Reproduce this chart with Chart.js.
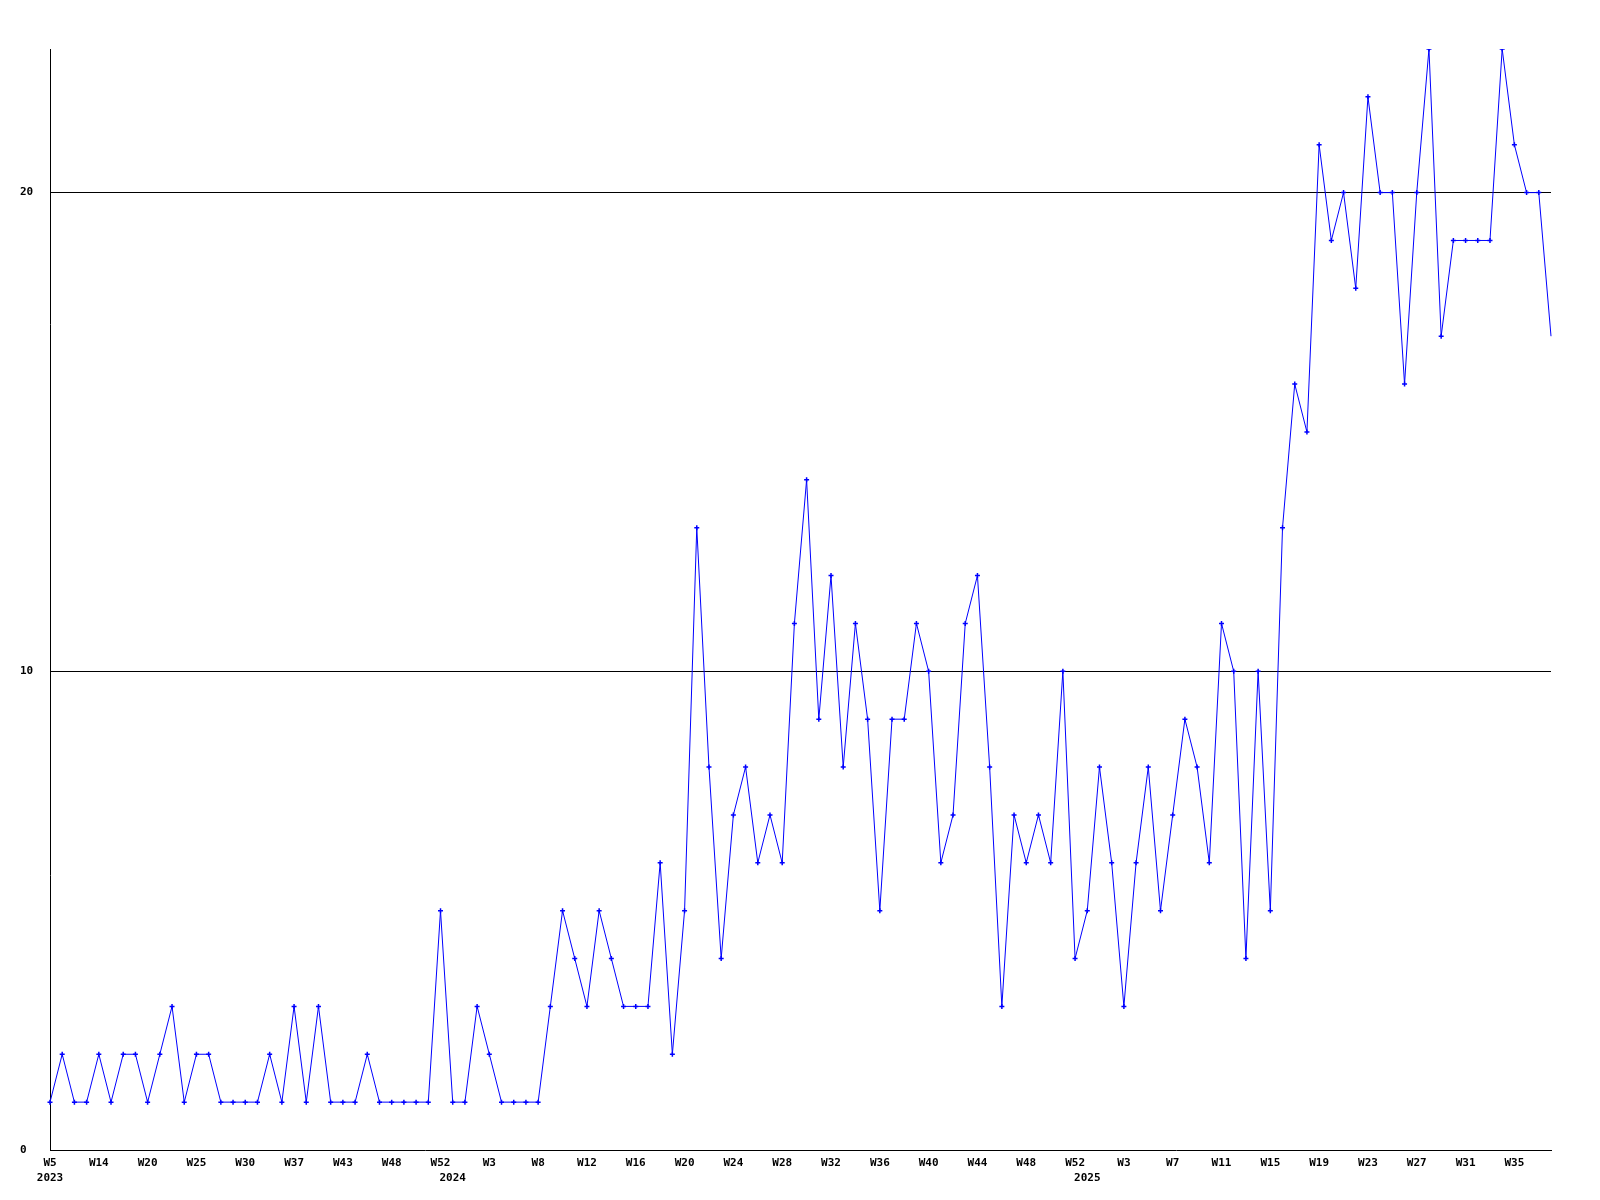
<!DOCTYPE html>
<html>
<head>
<meta charset="utf-8">
<title>Weekly count</title>
<script src="https://cdn.jsdelivr.net/npm/chart.js@4.4.0/dist/chart.umd.min.js"></script>
<style>
  html, body { margin: 0; padding: 0; background: #fff; }
  #chart { display: block; }
</style>
</head>
<body>
<canvas id="chart" width="1600" height="1200"></canvas>
<script>
// week numbers that have data, per year (data order)
const years = ['2023', '2024', '2025'];
const weeks2023 = [5, 7, 9, 12, 14, 16, 17, 19, 20, 21, 23, 24, 25, 27, 28, 29, 30, 32, 34, 36, 37, 39, 40, 42, 43, 44, 45, 47, 48, 49, 50, 51, 52];
const weeks2024 = [0, 1, 2, 3, 4, 5, 7, 8, 9, 10, 11, 12, 13, 14, 15, 16, 17, 18, 19, 20, 21, 22, 23, 24, 25, 26,
                   27, 28, 29, 30, 31, 32, 33, 34, 35, 36, 37, 38, 39, 40, 41, 42, 43, 44, 45, 46, 47, 48, 49, 50, 51, 52];
const weeks2025 = [0, 1, 2, 3, 4, 5, 6, 7, 8, 9, 10, 11, 12, 13, 14, 15, 16, 17, 18, 19,
                   20, 21, 22, 23, 24, 25, 26, 27, 28, 29, 30, 31, 32, 33, 34, 35, 36, 37, 38];

// weekly values
const counts = [
    1, 2, 1, 1, 2, 1, 2, 2, 1, 2,
    3, 1, 2, 2, 1, 1, 1, 1, 2, 1,
    3, 1, 3, 1, 1, 1, 2, 1, 1, 1,
    1, 1, 5, 1, 1, 3, 2, 1, 1, 1,
    1, 3, 5, 4, 3, 5, 4, 3, 3, 3,
    6, 2, 5, 13, 8, 4, 7, 8, 6, 7,
    6, 11, 14, 9, 12, 8, 11, 9, 5, 9,
    9, 11, 10, 6, 7, 11, 12, 8, 3, 7,
    6, 7, 6, 10, 4, 5, 8, 6, 3, 6,
    8, 5, 7, 9, 8, 6, 11, 10, 4, 10,
    5, 13, 16, 15, 21, 19, 20, 18, 22, 20,
    20, 16, 20, 23, 17, 19, 19, 19, 19, 23,
    21, 20, 20, 17
];

const yTicks = [0, 10, 20];
const yMax = 23;

// build category labels and remember where each year starts
const weekLabels = [];
const yearStart = {};
[weeks2023, weeks2024, weeks2025].forEach((wks, i) => {
    yearStart[weekLabels.length] = years[i];
    wks.forEach(w => weekLabels.push('W' + w));
});

const tickFont = { family: "'DejaVu Sans Mono', monospace", size: 11, weight: 'bold', lineHeight: 1.4 };

new Chart(document.getElementById('chart').getContext('2d'), {
    type: 'line',
    data: {
        labels: weekLabels,
        datasets: [{
            data: counts,
            borderColor: '#0000ff',
            backgroundColor: '#0000ff',
            borderWidth: 1,
            tension: 0,
            fill: false,
            pointStyle: 'cross',
            pointRadius: ctx => ctx.dataIndex === counts.length - 1 ? 0 : 2.5,
            pointBorderWidth: 1.5,
            pointBorderColor: '#0000ff'
        }]
    },
    options: {
        responsive: false,
        animation: false,
        layout: { padding: { left: 20, top: 49, right: 49, bottom: 0 } },
        plugins: {
            legend: { display: false },
            tooltip: { enabled: false }
        },
        scales: {
            x: {
                offset: false,
                grid: { display: false, drawTicks: false },
                border: { display: true, color: '#000', width: 1 },
                ticks: {
                    autoSkip: false,
                    maxRotation: 0,
                    minRotation: 0,
                    padding: 5,
                    color: '#000',
                    font: tickFont,
                    callback: function (value, index) {
                        const wk = index % 4 === 0 ? weekLabels[index] : '';
                        const yr = yearStart[index];
                        if (!wk && !yr) return null;
                        return yr ? [wk, yr] : wk;
                    }
                },
                afterFit: scale => { scale.height = 50; }
            },
            y: {
                min: 0,
                max: yMax,
                grid: {
                    drawTicks: false,
                    color: ctx => (ctx.tick && yTicks.includes(ctx.tick.value) && ctx.tick.value !== 0) ? '#000' : 'rgba(0,0,0,0)',
                    lineWidth: 1
                },
                border: { display: true, color: '#000', width: 1 },
                ticks: {
                    stepSize: 10,
                    crossAlign: 'far',
                    color: '#000',
                    font: tickFont,
                    callback: value => yTicks.includes(value) ? String(value) : null
                },
                afterFit: scale => { scale.width = 30; }
            }
        }
    }
});
</script>
</body>
</html>
